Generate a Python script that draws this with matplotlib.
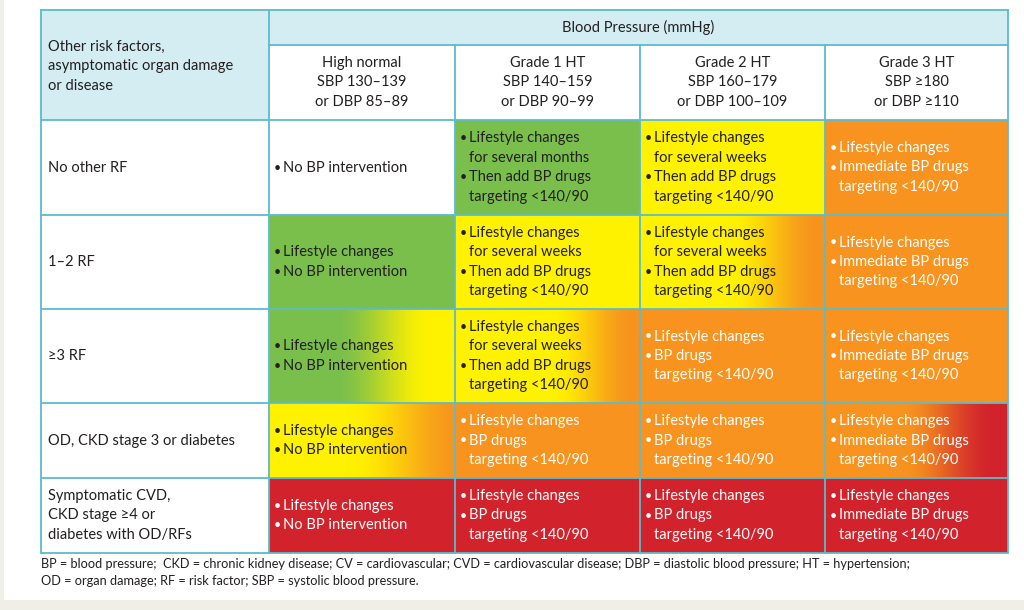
import matplotlib
matplotlib.use("Agg")
import matplotlib.pyplot as plt
import numpy as np
from matplotlib.colors import to_rgb

plt.rcParams['font.family'] = ['Lato', 'DejaVu Sans']

# ---------------- data ----------------
header_left = "Other risk factors,\nasymptomatic organ damage\nor disease"
header_top = "Blood Pressure (mmHg)"
bp_grades = ["High normal\nSBP 130–139\nor DBP 85–89",
             "Grade 1 HT\nSBP 140–159\nor DBP 90–99",
             "Grade 2 HT\nSBP 160–179\nor DBP 100–109",
             "Grade 3 HT\nSBP ≥180\nor DBP ≥110"]
risk_factors = ["No other RF",
                "1–2 RF",
                "≥3 RF",
                "OD, CKD stage 3 or diabetes",
                "Symptomatic CVD,\nCKD stage ≥4 or\ndiabetes with OD/RFs"]

NO_BP = ["No BP intervention"]
LS_NO = ["Lifestyle changes", "No BP intervention"]
LS_MONTHS = ["Lifestyle changes\nfor several months", "Then add BP drugs\ntargeting <140/90"]
LS_WEEKS = ["Lifestyle changes\nfor several weeks", "Then add BP drugs\ntargeting <140/90"]
LS_DRUGS = ["Lifestyle changes", "BP drugs\ntargeting <140/90"]
LS_IMM = ["Lifestyle changes", "Immediate BP drugs\ntargeting <140/90"]

advice = [[NO_BP, LS_MONTHS, LS_WEEKS, LS_IMM],
          [LS_NO, LS_WEEKS, LS_WEEKS, LS_IMM],
          [LS_NO, LS_WEEKS, LS_DRUGS, LS_IMM],
          [LS_NO, LS_DRUGS, LS_DRUGS, LS_IMM],
          [LS_NO, LS_DRUGS, LS_DRUGS, LS_IMM]]

# risk level 0=none, 1=low, 2=moderate, 3=high, 4=very high (left -> right of cell)
risk_start = [[0, 1, 2, 3],
              [1, 2, 2, 3],
              [1, 2, 3, 3],
              [2, 3, 3, 3],
              [4, 4, 4, 4]]
risk_end = [[0, 1, 2, 3],
            [1, 2, 3, 3],
            [2, 3, 3, 3],
            [3, 3, 3, 4],
            [4, 4, 4, 4]]

footnote = ["BP = blood pressure;  CKD = chronic kidney disease; CV = cardiovascular; CVD = cardiovascular disease; DBP = diastolic blood pressure; HT = hypertension;",
            "OD = organ damage; RF = risk factor; SBP = systolic blood pressure."]

# ---------------- style ----------------
level_colors = ['#ffffff', '#7abf4c', '#fff200', '#f7931e', '#d2232c']
head_blue = '#d4edf3'
border = '#5bbccc'
dark = '#231f20'
beige = '#efefe7'
FS = 10.5
LS = 19.5

col_x = [41, 269, 455, 640, 825, 1008]
row_y = [120, 215, 309, 403, 478, 553]
top_y, mid_y = 10, 45

# gradient spans (fraction of cell width) for transition cells
grad_span = {(1, 2): (0.48, 0.97), (2, 0): (0.35, 0.88), (2, 1): (0.52, 0.97),
             (3, 0): (0.42, 1.05), (3, 3): (0.42, 0.93)}

fig = plt.figure(figsize=(10.24, 6.10), dpi=100)
fig.patch.set_facecolor('white')
ax = fig.add_axes([0, 0, 1, 1])
ax.set_xlim(0, 1024)
ax.set_ylim(610, 0)
ax.axis('off')


def stack(x, cy, text, ha='left', color=dark):
    lines = text.split('\n')
    for k, line in enumerate(lines):
        ax.text(x, cy + (k - (len(lines) - 1) / 2) * LS, line, ha=ha, va='center',
                fontsize=FS, color=color, zorder=3)


# background bands
ax.add_patch(plt.Rectangle((0, 0), 3.5, 610, color=beige, lw=0, zorder=0))
ax.add_patch(plt.Rectangle((0, 600), 1024, 10, color=beige, lw=0, zorder=0))

# header
ax.add_patch(plt.Rectangle((col_x[0], top_y), col_x[1] - col_x[0], row_y[0] - top_y, color=head_blue, lw=0))
ax.add_patch(plt.Rectangle((col_x[1], top_y), col_x[-1] - col_x[1], mid_y - top_y, color=head_blue, lw=0))
stack((col_x[1] + col_x[-1]) / 2, (top_y + mid_y) / 2, header_top, ha='center')
stack(col_x[0] + 7, (top_y + row_y[0]) / 2 + 1, header_left)
for j, g in enumerate(bp_grades):
    stack((col_x[j + 1] + col_x[j + 2]) / 2, (mid_y + row_y[0]) / 2, g, ha='center')

# body
for i, rf in enumerate(risk_factors):
    y0, y1 = row_y[i], row_y[i + 1]
    cy = (y0 + y1) / 2
    stack(col_x[0] + 7, cy, rf)
    for j in range(4):
        x0, x1 = col_x[j + 1], col_x[j + 2]
        c0 = np.array(to_rgb(level_colors[risk_start[i][j]]))
        c1 = np.array(to_rgb(level_colors[risk_end[i][j]]))
        if risk_start[i][j] == risk_end[i][j]:
            ax.add_patch(plt.Rectangle((x0, y0), x1 - x0, y1 - y0, color=level_colors[risk_start[i][j]], lw=0, zorder=1))
        else:
            a, b = grad_span[(i, j)]
            t = np.linspace(0, 1, 300)
            f = np.clip((t - a) / (b - a), 0, 1)
            f = f * f * (3 - 2 * f)
            img = (c0[None, :] * (1 - f[:, None]) + c1[None, :] * f[:, None])[None, :, :]
            ax.imshow(img, extent=(x0, x1, y1, y0), aspect='auto', interpolation='bilinear', zorder=1)
        tc = 'white' if risk_start[i][j] >= 3 else dark
        flat = []
        for item in advice[i][j]:
            for k, line in enumerate(item.split('\n')):
                flat.append((k == 0, line))
        n = len(flat)
        for k, (bul, line) in enumerate(flat):
            yy = cy + (k - (n - 1) / 2) * LS
            if bul:
                ax.text(x0 + 5, yy, '•', ha='left', va='center', fontsize=FS - 1.5, color=tc, zorder=3)
            ax.text(x0 + 14, yy, line, ha='left', va='center', fontsize=FS, color=tc, zorder=3)

ax.set_xlim(0, 1024)
ax.set_ylim(610, 0)

# grid lines
lw = 1.3
for y in row_y:
    ax.plot([col_x[0], col_x[-1]], [y, y], color=border, lw=lw, zorder=4, solid_capstyle='butt')
ax.plot([col_x[0], col_x[-1]], [top_y, top_y], color=border, lw=lw, zorder=4)
ax.plot([col_x[1], col_x[-1]], [mid_y, mid_y], color=border, lw=lw, zorder=4)
ax.plot([col_x[0], col_x[0]], [top_y, row_y[-1]], color=border, lw=lw, zorder=4)
ax.plot([col_x[1], col_x[1]], [top_y, row_y[-1]], color=border, lw=lw, zorder=4)
ax.plot([col_x[-1], col_x[-1]], [top_y, row_y[-1]], color=border, lw=lw, zorder=4)
for x in col_x[2:-1]:
    ax.plot([x, x], [mid_y, row_y[-1]], color=border, lw=lw, zorder=4)

# footnote
for k, line in enumerate(footnote):
    ax.text(col_x[0], 564 + k * 17, line, ha='left', va='center', fontsize=9.2, color=dark)

fig.savefig('out.png', dpi=100, facecolor='white')
